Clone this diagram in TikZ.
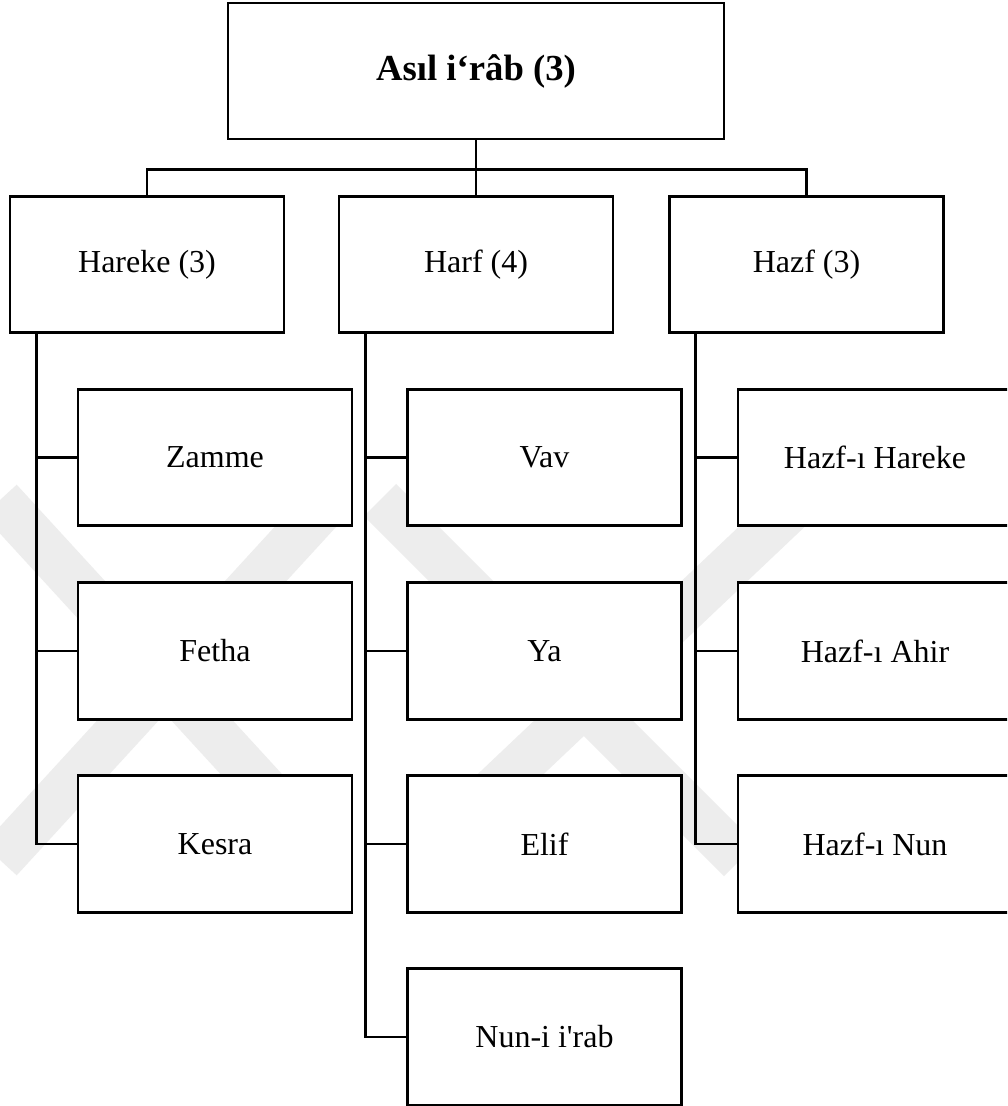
\documentclass[tikz,border=0pt]{standalone}
\usepackage{fontspec}
\setmainfont{Liberation Serif}
\usetikzlibrary{calc}

\tikzset{
  box/.style={draw=black, line width=2.1pt, fill=white, rectangle, inner sep=0pt,
              minimum width=205.5pt, minimum height=102.5pt,
              font=\fontsize{24}{28}\selectfont},
  topbox/.style={box, minimum width=372pt, minimum height=102pt,
              font=\fontsize{27.5}{32}\selectfont\bfseries},
  link/.style={draw=black, line width=2.1pt},
  mark band/.style={draw=black!7, line width=34pt, line cap=butt}
}

\begin{document}
\begin{tikzpicture}[x=0.75pt, y=-0.75pt]
  \useasboundingbox (0,0) rectangle (1007,1106);
  \clip (0,0) rectangle (1007,1106);
  \fill[white] (0,0) rectangle (1007,1106);

  % faint background emblem
  \draw[mark band] (0,500) -- (330,860);
  \draw[mark band] (0,860) -- (330,500);
  \draw[mark band] (380,500) -- (740,860);
  \draw[mark band] (420,860) -- (800,500);

  % root
  \node[topbox] (root) at (476,71) {Asıl i‘râb (3)};

  % second level
  \node[box] (hareke) at (147,264.5) {Hareke (3)};
  \node[box] (harf)   at (476,264.5) {Harf (4)};
  \node[box] (hazf)   at (806.5,264.5) {Hazf (3)};

  % leaves under Hareke
  \node[box] (zamme) at (215,457.5) {Zamme};
  \node[box] (fetha) at (215,651) {Fetha};
  \node[box] (kesra) at (215,844) {Kesra};

  % leaves under Harf
  \node[box] (vav)  at (544.5,457.5) {Vav};
  \node[box] (ya)   at (544.5,651) {Ya};
  \node[box] (elif) at (544.5,844) {Elif};
  \node[box] (nun)  at (544.5,1037) {Nun-i i\textquotesingle rab};

  % leaves under Hazf
  \node[box] (hh) at (875,457.5) {Hazf-ı Hareke};
  \node[box] (ha) at (875,651) {Hazf-ı Ahir};
  \node[box] (hn) at (875,844) {Hazf-ı Nun};

  % root to second level
  \coordinate (bus) at ($(root.south)+(0,29)$);
  \draw[link] (root.south) -- (bus);
  \draw[link] (hareke.north) |- (bus) -| (hazf.north);
  \draw[link] (bus) -- (harf.north);

  % trunks
  \coordinate (t1) at ($(hareke.south west)+(28,0)$);
  \coordinate (t2) at ($(harf.south west)+(28,0)$);
  \coordinate (t3) at ($(hazf.south west)+(27.5,0)$);

  \draw[link] (t1) |- (kesra.west);
  \draw[link] (zamme.west) -- (zamme.west -| t1);
  \draw[link] (fetha.west) -- (fetha.west -| t1);

  \draw[link] (t2) |- (nun.west);
  \draw[link] (vav.west) -- (vav.west -| t2);
  \draw[link] (ya.west) -- (ya.west -| t2);
  \draw[link] (elif.west) -- (elif.west -| t2);

  \draw[link] (t3) |- (hn.west);
  \draw[link] (hh.west) -- (hh.west -| t3);
  \draw[link] (ha.west) -- (ha.west -| t3);
\end{tikzpicture}
\end{document}
